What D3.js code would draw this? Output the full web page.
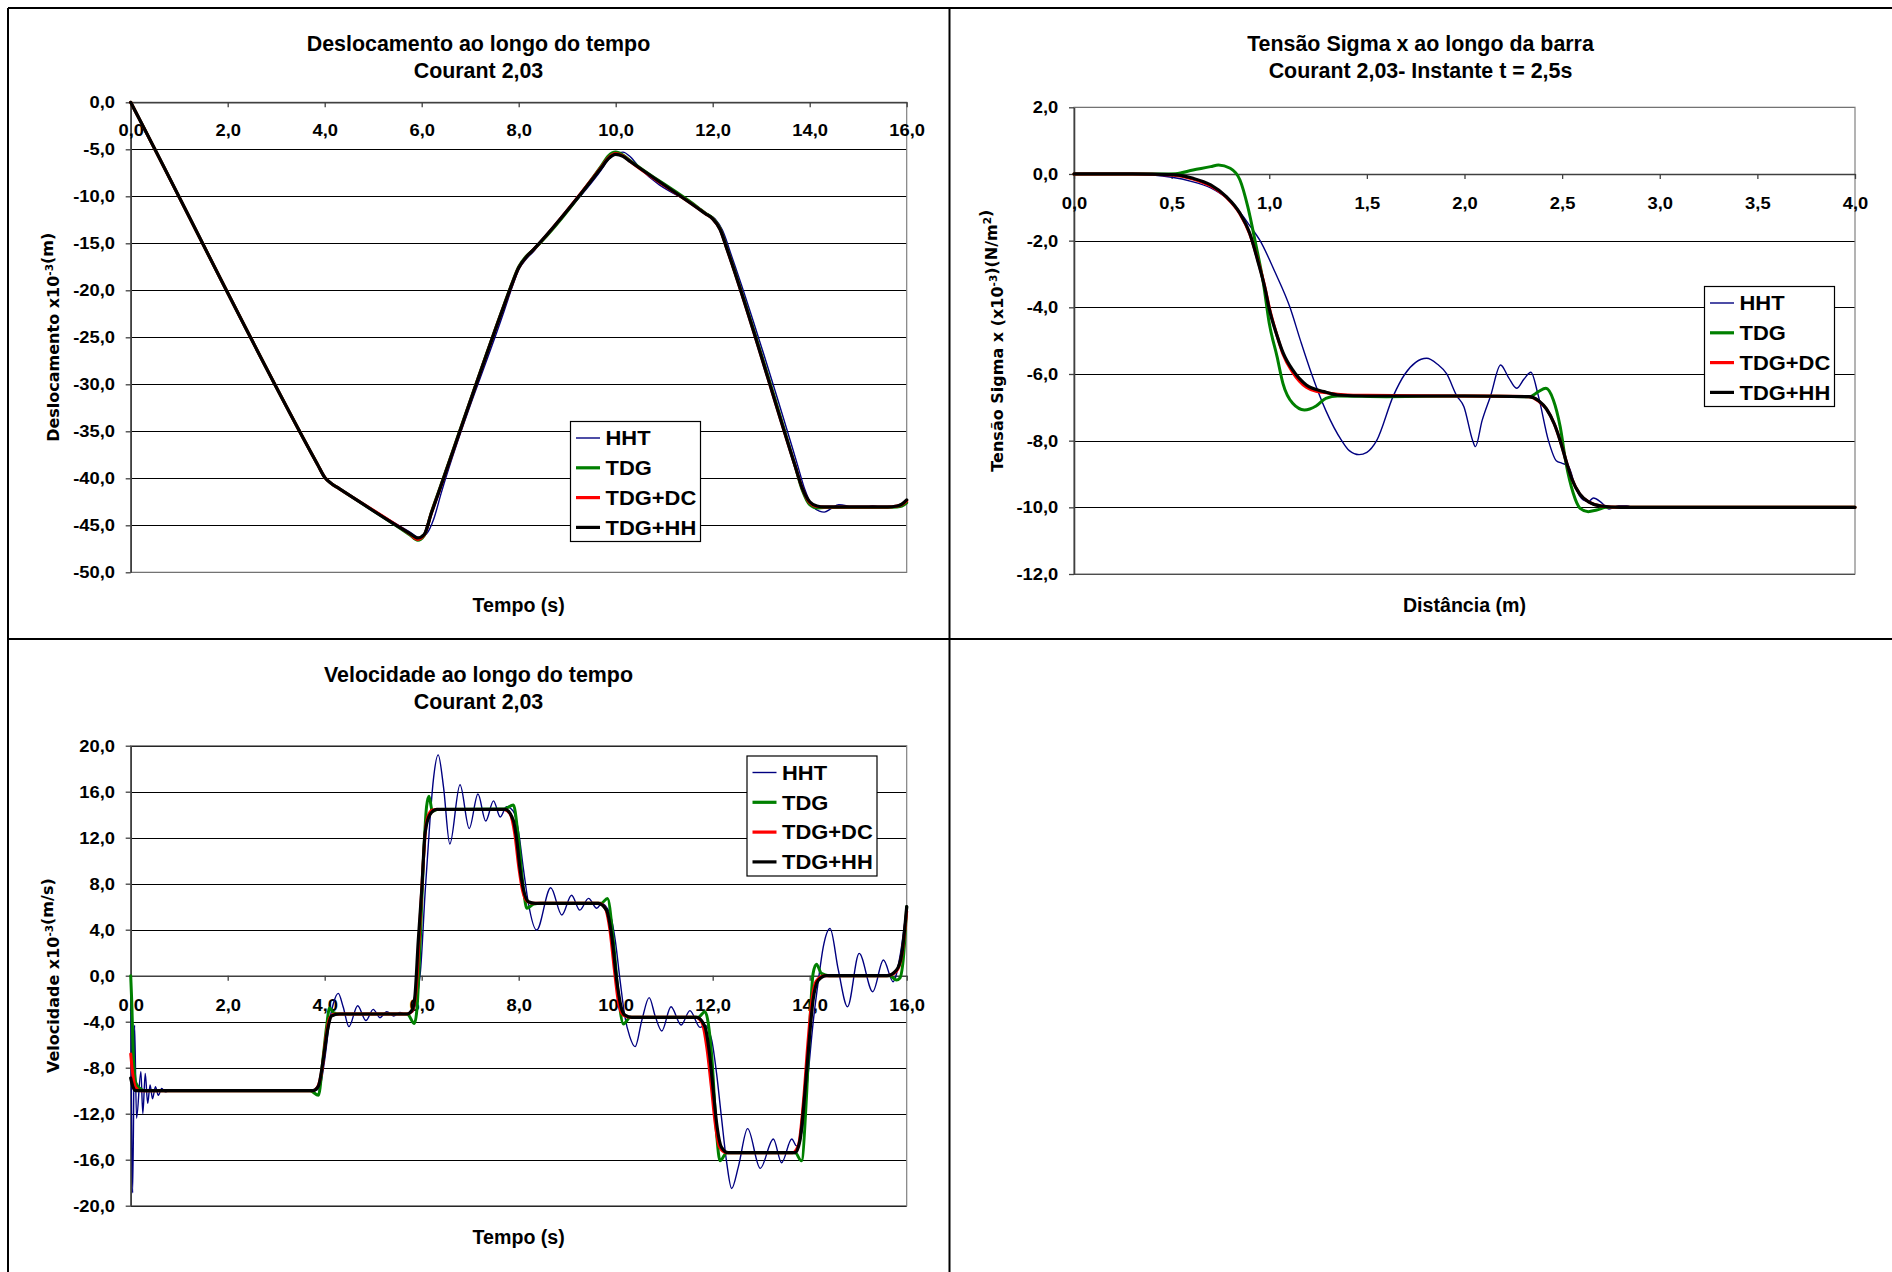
<!DOCTYPE html>
<html>
<head>
<meta charset="utf-8">
<script src="https://cdn.jsdelivr.net/npm/d3@7"></script>
<style>
  html, body { margin: 0; padding: 0; background: #fff; }
</style>
</head>
<body>
<script>
// ---------- shared series styling ----------
const seriesNames  = ["HHT", "TDG", "TDG+DC", "TDG+HH"];
const seriesColors = ["#000080", "#008000", "#ff0000", "#000000"];
const seriesWidths = [1.4, 3, 3, 3.2];

// ---------- Deslocamento ao longo do tempo (t [s], u [x10^-3 m]) ----------
const dispXTicks = [0, 2, 4, 6, 8, 10, 12, 14, 16];
const dispYTicks = [0, -5, -10, -15, -20, -25, -30, -35, -40, -45, -50];
const dispHHT = [[0,0],[0.2,-2],[3.85,-38.5],[4.0,-39.9],[4.15,-40.6],[4.3,-41.1],[5.75,-45.7],[5.95,-46.3],[6.1,-45.9],[6.25,-44.3],[6.4,-41.6],[7.7,-22.2],[7.85,-19.9],[8.0,-17.8],[8.15,-16.7],[8.3,-15.9],[8.5,-14.6],[9.7,-7.2],[9.85,-6.1],[10.0,-5.5],[10.15,-5.3],[10.3,-5.8],[10.5,-7.0],[11.7,-11.2],[11.9,-11.9],[12.05,-12.4],[12.2,-13.6],[12.4,-16.5],[13.75,-38.6],[13.9,-41.2],[14.05,-42.9],[14.2,-43.5],[14.3,-43.6],[14.45,-43.2],[14.6,-42.8],[14.75,-42.9],[14.9,-43.15],[15.1,-43.2],[15.3,-42.95],[15.5,-43.1],[15.7,-43.0],[15.85,-42.85],[16,-42.3]];
const dispTDG = [[0,0],[0.2,-2],[3.85,-38.5],[4.0,-39.9],[4.15,-40.6],[4.3,-41.1],[5.75,-46.0],[5.92,-46.6],[6.05,-46.1],[6.2,-43.6],[6.35,-41.4],[7.7,-21.5],[7.85,-19.4],[8.0,-17.5],[8.15,-16.4],[8.3,-15.7],[9.7,-6.8],[9.85,-5.7],[10.0,-5.3],[10.15,-5.6],[10.3,-6.2],[11.7,-11.2],[11.85,-11.8],[12.0,-12.3],[12.15,-13.4],[12.3,-15.6],[13.7,-38.7],[13.85,-41.3],[14.0,-42.8],[14.15,-43.15],[14.3,-43.1],[15.6,-43.1],[15.8,-43.05],[15.9,-42.95],[16,-42.6]];
const dispTDGDC = [[0,0],[0.2,-2],[3.85,-38.5],[4.0,-39.9],[4.15,-40.6],[4.3,-41.1],[5.75,-45.9],[5.92,-46.5],[6.05,-46.05],[6.2,-43.7],[6.35,-41.5],[7.7,-21.6],[7.85,-19.5],[8.0,-17.6],[8.15,-16.5],[8.3,-15.7],[9.7,-6.9],[9.85,-5.9],[10.0,-5.45],[10.15,-5.7],[10.3,-6.3],[11.7,-11.3],[11.85,-11.85],[12.0,-12.4],[12.15,-13.5],[12.3,-15.7],[13.7,-38.7],[13.85,-41.1],[14.0,-42.6],[14.15,-43.0],[14.3,-43.05],[15.6,-43.05],[15.8,-42.95],[15.9,-42.8],[16,-42.4]];
const dispTDGHH = [[0,0],[0.2,-2],[3.85,-38.5],[4.0,-39.9],[4.15,-40.6],[4.3,-41.1],[5.75,-45.85],[5.92,-46.35],[6.05,-46.0],[6.2,-43.7],[6.35,-41.5],[7.7,-21.6],[7.85,-19.5],[8.0,-17.6],[8.15,-16.5],[8.3,-15.7],[9.7,-7.0],[9.85,-6.0],[10.0,-5.55],[10.15,-5.75],[10.3,-6.3],[11.7,-11.3],[11.85,-11.85],[12.0,-12.4],[12.15,-13.5],[12.3,-15.7],[13.7,-38.7],[13.85,-41.1],[14.0,-42.5],[14.15,-42.95],[14.3,-43.05],[15.6,-43.05],[15.8,-42.95],[15.9,-42.75],[16,-42.3]];

// ---------- Tensão Sigma x ao longo da barra (d [m], sigma [x10^-3 N/m2]) ----------
const stressXTicks = [0, 0.5, 1, 1.5, 2, 2.5, 3, 3.5, 4];
const stressYTicks = [2, 0, -2, -4, -6, -8, -10, -12];
const stressHHT = [[0,0],[0.3,-0.01],[0.5,-0.1],[0.6,-0.22],[0.7,-0.42],[0.78,-0.72],[0.85,-1.15],[0.9,-1.55],[0.953,-2.0],[1.03,-2.95],[1.106,-4.0],[1.16,-5.0],[1.217,-6.0],[1.29,-7.1],[1.371,-8.0],[1.41,-8.3],[1.46,-8.42],[1.5,-8.35],[1.55,-8.0],[1.636,-6.65],[1.695,-6.0],[1.75,-5.65],[1.806,-5.53],[1.86,-5.7],[1.909,-6.0],[1.96,-6.65],[1.997,-6.98],[2.042,-8.0],[2.056,-8.18],[2.09,-7.4],[2.134,-6.65],[2.185,-5.73],[2.225,-6.1],[2.267,-6.43],[2.305,-6.15],[2.34,-5.95],[2.378,-6.65],[2.43,-8.0],[2.47,-8.6],[2.5,-8.68],[2.53,-8.75],[2.575,-9.5],[2.608,-9.78],[2.635,-9.83],[2.66,-9.72],[2.70,-9.85],[2.74,-10.05],[2.79,-9.95],[2.83,-9.95],[2.87,-10.03],[2.92,-10.0],[4,-10.0]];
const stressTDG = [[0,0],[0.45,0],[0.52,0.01],[0.61,0.12],[0.7,0.22],[0.74,0.27],[0.8,0.17],[0.85,-0.18],[0.89,-0.98],[0.93,-2.08],[0.97,-3.28],[1.0,-4.48],[1.04,-5.48],[1.07,-6.28],[1.12,-6.88],[1.18,-7.08],[1.24,-6.96],[1.29,-6.73],[1.35,-6.66],[1.6,-6.68],[2.0,-6.66],[2.335,-6.68],[2.378,-6.53],[2.417,-6.43],[2.455,-6.78],[2.49,-7.58],[2.52,-8.68],[2.557,-9.58],[2.592,-10.03],[2.634,-10.13],[2.677,-10.08],[2.728,-10.0],[4,-10.0]];
const stressTDGDC = [[0,0],[0.3,0],[0.5,-0.03],[0.61,-0.15],[0.7,-0.36],[0.78,-0.7],[0.85,-1.2],[0.9,-1.8],[0.94,-2.55],[0.98,-3.45],[1.0,-4.0],[1.04,-4.85],[1.07,-5.4],[1.12,-5.95],[1.19,-6.4],[1.24,-6.52],[1.3,-6.57],[1.38,-6.62],[1.5,-6.64],[2.0,-6.66],[2.33,-6.68],[2.38,-6.82],[2.42,-7.05],[2.46,-7.5],[2.49,-8.0],[2.52,-8.6],[2.55,-9.15],[2.59,-9.6],[2.64,-9.85],[2.7,-9.96],[2.8,-10.0],[4,-10.0]];
const stressTDGHH = [[0,0],[0.3,0],[0.5,-0.02],[0.61,-0.13],[0.7,-0.33],[0.78,-0.68],[0.85,-1.18],[0.9,-1.78],[0.94,-2.58],[0.98,-3.48],[1.0,-4.05],[1.04,-4.85],[1.07,-5.35],[1.12,-5.88],[1.19,-6.33],[1.28,-6.53],[1.35,-6.63],[1.5,-6.66],[2.0,-6.66],[2.33,-6.68],[2.38,-6.8],[2.42,-7.05],[2.46,-7.5],[2.49,-8.0],[2.52,-8.6],[2.55,-9.15],[2.59,-9.6],[2.64,-9.85],[2.7,-9.96],[2.8,-10.0],[4,-10.0]];

// ---------- Velocidade ao longo do tempo (t [s], v [x10^-3 m/s]) ----------
const velXTicks = [0, 2, 4, 6, 8, 10, 12, 14, 16];
const velYTicks = [20, 16, 12, 8, 4, 0, -4, -8, -12, -16, -20];
const velHHT = [[0,0],[0.04,-18.9],[0.08,-4.3],[0.12,-12.4],[0.21,-8.35],[0.25,-12.0],[0.3,-8.5],[0.35,-11.1],[0.4,-9.5],[0.45,-10.7],[0.51,-9.65],[0.57,-10.4],[0.64,-9.8],[0.71,-10.1],[0.8,-10.0],[3.8,-10.0],[3.9,-9.65],[4.0,-7.3],[4.11,-3.7],[4.18,-2.4],[4.28,-1.54],[4.38,-2.7],[4.5,-4.43],[4.68,-2.61],[4.85,-3.9],[5.0,-2.93],[5.14,-3.65],[5.28,-3.13],[5.42,-3.5],[5.55,-3.2],[5.66,-3.36],[5.8,-3.2],[5.97,0.2],[6.07,7.2],[6.17,13.5],[6.24,17.0],[6.34,19.2],[6.45,16.4],[6.58,11.45],[6.79,16.6],[6.98,12.8],[7.16,15.8],[7.32,13.45],[7.48,15.2],[7.62,13.8],[7.75,14.7],[7.89,14.3],[7.99,12.7],[8.1,9.2],[8.2,6.3],[8.37,3.97],[8.66,7.65],[8.89,5.28],[9.09,7.0],[9.26,5.7],[9.44,6.72],[9.61,5.86],[9.71,6.29],[9.88,5.4],[9.99,3.1],[10.09,-0.4],[10.19,-3.57],[10.29,-5.3],[10.4,-6.17],[10.54,-3.86],[10.69,-1.91],[10.82,-3.6],[10.95,-4.81],[11.14,-2.7],[11.35,-4.29],[11.53,-3.04],[11.74,-4.49],[11.84,-4.3],[11.98,-5.6],[12.08,-8.5],[12.18,-12.3],[12.29,-16.3],[12.39,-18.5],[12.53,-16.6],[12.72,-13.3],[12.98,-16.75],[13.25,-14.2],[13.42,-16.26],[13.63,-14.2],[13.73,-14.8],[13.87,-12.8],[13.97,-8.5],[14.07,-4.1],[14.18,-0.38],[14.28,2.5],[14.42,4.1],[14.59,0.5],[14.78,-2.7],[15.02,1.94],[15.3,-1.39],[15.52,1.36],[15.72,-0.52],[15.86,1.65],[16,6.0]];
const velTDG = [[0,0],[0.02,-2.1],[0.055,-7.0],[0.11,-9.36],[0.19,-9.8],[0.3,-10.0],[3.7,-10.0],[3.87,-10.4],[3.97,-7.0],[4.04,-4.4],[4.1,-2.8],[4.18,-3.2],[4.3,-3.33],[5.7,-3.33],[5.85,-4.15],[5.9,-3.0],[5.97,3.0],[6.03,9.5],[6.1,14.7],[6.15,15.6],[6.22,14.3],[6.32,14.46],[7.7,14.5],[7.89,14.84],[7.99,12.1],[8.1,7.45],[8.17,5.86],[8.31,6.23],[8.45,6.29],[9.7,6.29],[9.83,6.72],[9.95,3.1],[10.05,-1.5],[10.16,-4.2],[10.3,-3.62],[11.7,-3.62],[11.84,-3.13],[11.98,-7.0],[12.08,-13.7],[12.15,-16.1],[12.29,-15.4],[13.7,-15.4],[13.83,-16.1],[13.94,-10.0],[14.01,-3.6],[14.07,0.2],[14.14,1.0],[14.24,0.2],[14.4,0],[15.65,0],[15.79,-0.38],[15.86,-0.2],[15.94,1.94],[16,6.0]];
const velTDGDC = [[0,-6.8],[0.05,-8.8],[0.1,-9.7],[0.2,-10.0],[3.75,-10.0],[3.85,-9.7],[3.95,-8.0],[4.03,-5.2],[4.1,-3.7],[4.2,-3.35],[4.35,-3.33],[5.7,-3.33],[5.8,-3.1],[5.88,-1.5],[5.95,3.5],[6.02,9.0],[6.1,13.4],[6.2,14.35],[6.3,14.46],[7.7,14.46],[7.82,14.1],[7.92,12.3],[8.0,9.5],[8.08,7.4],[8.18,6.45],[8.3,6.29],[9.65,6.29],[9.78,5.9],[9.88,4.0],[9.97,0.6],[10.06,-2.4],[10.15,-3.4],[10.3,-3.62],[11.65,-3.62],[11.78,-4.1],[11.88,-6.3],[11.97,-9.6],[12.05,-12.8],[12.14,-14.9],[12.28,-15.39],[13.65,-15.39],[13.77,-14.7],[13.87,-11.0],[13.96,-6.0],[14.04,-2.3],[14.13,-0.5],[14.3,0],[15.6,0],[15.78,0.35],[15.9,1.8],[16,5.6]];
const velTDGHH = [[0,-8.9],[0.05,-9.7],[0.1,-10.0],[3.75,-10.0],[3.87,-9.6],[3.97,-7.3],[4.06,-4.7],[4.14,-3.5],[4.3,-3.33],[5.7,-3.33],[5.8,-3.0],[5.86,-1.8],[5.93,3.1],[6.0,7.4],[6.07,12.4],[6.17,14.0],[6.31,14.46],[7.72,14.46],[7.89,13.5],[7.96,11.8],[8.03,9.2],[8.1,7.45],[8.2,6.43],[8.34,6.29],[9.64,6.29],[9.81,5.7],[9.92,3.4],[10.02,-0.38],[10.11,-2.7],[10.19,-3.42],[10.33,-3.62],[11.67,-3.62],[11.84,-4.43],[11.94,-7.0],[12.01,-9.9],[12.08,-12.8],[12.18,-14.9],[12.32,-15.39],[13.7,-15.39],[13.8,-14.3],[13.9,-10.2],[13.99,-5.6],[14.07,-2.1],[14.18,-0.38],[14.35,0],[15.59,0],[15.79,0.5],[15.9,1.94],[16,6.0]];

// ---------- drawing ----------
const W = 1892, H = 1272;
const ARIAL = "'Liberation Sans', Arial, Helvetica, sans-serif";
const WIDE  = "'DejaVu Sans', Verdana, sans-serif";
const TICK_SX = 1.08;    // tick labels are set slightly wide
const LEGEND_SX = 1.07;

const svg = d3.select("body").append("svg")
  .attr("width", W).attr("height", H)
  .style("display", "block").style("background", "#fff");

const numLocale = d3.formatLocale({ decimal: ",", thousands: ".", grouping: [3], currency: ["", ""], minus: "-" });
const fmt1 = numLocale.format(".1f");

function drawChart(cfg) {
  const g = svg.append("g");
  const x = d3.scaleLinear().domain(cfg.xDomain).range([cfg.left, cfg.right]);
  const y = d3.scaleLinear().domain(cfg.yDomain).range([cfg.bottom, cfg.top]);

  // horizontal gridlines
  g.append("g").selectAll("line").data(cfg.yTicks).join("line")
    .attr("x1", cfg.left).attr("x2", cfg.right)
    .attr("y1", d => Math.round(y(d)) + 0.5).attr("y2", d => Math.round(y(d)) + 0.5)
    .attr("stroke", "#000").attr("stroke-width", 1);

  // plot area frame
  g.append("rect")
    .attr("x", cfg.left).attr("y", cfg.top)
    .attr("width", cfg.right - cfg.left).attr("height", cfg.bottom - cfg.top)
    .attr("fill", "none").attr("stroke", "#808080").attr("stroke-width", 1.2);

  // y axis
  const yAxis = d3.axisLeft(y).tickValues(cfg.yTicks).tickFormat(fmt1)
    .tickSize(5).tickSizeOuter(0).tickPadding(10.5);
  const ya = g.append("g").attr("transform", `translate(${cfg.left},0)`).call(yAxis);
  ya.select(".domain").attr("stroke", "#404040").attr("stroke-width", 1.6);
  ya.selectAll(".tick line").attr("stroke", "#404040").attr("stroke-width", 1.3);
  ya.selectAll(".tick text")
    .attr("x", 0).attr("transform", `translate(-15.7,0) scale(${TICK_SX},1)`)
    .style("font-family", ARIAL).style("font-weight", "bold").style("font-size", "17px").attr("fill", "#000");

  // x axis crossing at zero
  const xAxis = d3.axisBottom(x).tickValues(cfg.xTicks).tickFormat(fmt1)
    .tickSize(5).tickSizeOuter(0).tickPadding(cfg.xPad);
  const xa = g.append("g").attr("transform", `translate(0,${y(0)})`).call(xAxis);
  xa.select(".domain").attr("stroke", "#404040").attr("stroke-width", 1.6);
  xa.selectAll(".tick line").attr("stroke", "#404040").attr("stroke-width", 1.3);
  xa.selectAll(".tick text")
    .attr("transform", `scale(${TICK_SX},1)`)
    .style("font-family", ARIAL).style("font-weight", "bold").style("font-size", "17px").attr("fill", "#000");

  // series
  const line = d3.line().x(d => x(d[0])).y(d => y(d[1])).curve(d3.curveMonotoneX);
  g.append("g").selectAll("path").data(cfg.series).join("path")
    .attr("d", d => line(d))
    .attr("fill", "none")
    .attr("stroke", (d, i) => seriesColors[i])
    .attr("stroke-width", (d, i) => seriesWidths[i])
    .attr("stroke-linejoin", "round").attr("stroke-linecap", "round");

  // chart title (two lines)
  const tt = g.append("text")
    .attr("text-anchor", "middle")
    .style("font-family", ARIAL).style("font-weight", "bold").style("font-size", cfg.titleSize + "px");
  cfg.title.forEach((t, i) => {
    tt.append("tspan").attr("x", cfg.panelCx).attr("y", cfg.panelTop + 43 + i * 26.6).text(t);
  });

  // x axis title
  g.append("text")
    .attr("x", (cfg.left + cfg.right) / 2).attr("y", cfg.xTitleY)
    .attr("text-anchor", "middle")
    .style("font-family", ARIAL).style("font-weight", "bold").style("font-size", "19.6px")
    .text(cfg.xTitle);

  // y axis title, rotated, with superscripts
  const yt = g.append("text")
    .attr("transform", `translate(${cfg.yTitleX},${(cfg.top + cfg.bottom) / 2}) rotate(-90)`)
    .attr("text-anchor", "middle")
    .style("font-family", WIDE).style("font-weight", "bold").style("font-size", "16px");
  cfg.yTitle.forEach(part => {
    if (part.sup) {
      yt.append("tspan").attr("dy", -6).style("font-size", "10.5px").text(part.t);
      yt.append("tspan").attr("dy", 6).text("");
    } else {
      yt.append("tspan").text(part.t);
    }
  });

  // legend
  const lg = g.append("g").attr("transform", `translate(${cfg.legend[0]},${cfg.legend[1]})`);
  lg.append("rect").attr("x", 0.5).attr("y", 0.5).attr("width", 130).attr("height", 120)
    .attr("fill", "#fff").attr("stroke", "#000").attr("stroke-width", 1.2);
  const rows = lg.selectAll("g.row").data(seriesNames).join("g").attr("class", "row")
    .attr("transform", (d, i) => `translate(0,${17 + i * 29.8})`);
  rows.append("line").attr("x1", 6).attr("x2", 30).attr("y1", 0).attr("y2", 0)
    .attr("stroke", (d, i) => seriesColors[i])
    .attr("stroke-width", (d, i) => i === 0 ? 1.4 : 3.2);
  rows.append("text").attr("transform", `translate(35.5,7.3) scale(${LEGEND_SX},1)`)
    .style("font-family", ARIAL).style("font-weight", "bold").style("font-size", "20.5px")
    .text(d => d);
}

// panel frame lines
const frame = svg.append("g").attr("stroke", "#000").attr("stroke-width", 2);
frame.append("line").attr("x1", 8).attr("x2", W).attr("y1", 8).attr("y2", 8);
frame.append("line").attr("x1", 8).attr("x2", 8).attr("y1", 8).attr("y2", H);
frame.append("line").attr("x1", 949.5).attr("x2", 949.5).attr("y1", 8).attr("y2", H);
frame.append("line").attr("x1", 8).attr("x2", W).attr("y1", 639).attr("y2", 639);

drawChart({
  left: 130.7, right: 906.7, top: 102.3, bottom: 572.3,
  xDomain: [0, 16], yDomain: [-50, 0],
  xTicks: dispXTicks, yTicks: dispYTicks, xPad: 16.5,
  series: [dispHHT, dispTDG, dispTDGDC, dispTDGHH],
  title: ["Deslocamento ao longo do tempo", "Courant 2,03"], titleSize: 21.4,
  panelCx: 478.5, panelTop: 8,
  xTitle: "Tempo (s)", xTitleY: 611.5,
  yTitle: [{ t: "Deslocamento x10" }, { t: "-3", sup: true }, { t: "(m)" }], yTitleX: 59,
  legend: [570, 421]
});

drawChart({
  left: 1074, right: 1855, top: 107.3, bottom: 574,
  xDomain: [0, 4], yDomain: [-12, 2],
  xTicks: stressXTicks, yTicks: stressYTicks, xPad: 17.5,
  series: [stressHHT, stressTDG, stressTDGDC, stressTDGHH],
  title: ["Tensão Sigma x ao longo da barra", "Courant 2,03- Instante t = 2,5s"], titleSize: 21.4,
  panelCx: 1420.5, panelTop: 8,
  xTitle: "Distância (m)", xTitleY: 611.5,
  yTitle: [{ t: "Tensão Sigma x (x10" }, { t: "-3", sup: true }, { t: ")(N/m" }, { t: "2", sup: true }, { t: ")" }], yTitleX: 1002.5,
  legend: [1704, 286]
});

drawChart({
  left: 130.7, right: 906.7, top: 745.7, bottom: 1205.7,
  xDomain: [0, 16], yDomain: [-20, 20],
  xTicks: velXTicks, yTicks: velYTicks, xPad: 18.5,
  series: [velHHT, velTDG, velTDGDC, velTDGHH],
  title: ["Velocidade ao longo do tempo", "Courant 2,03"], titleSize: 21.4,
  panelCx: 478.5, panelTop: 639,
  xTitle: "Tempo (s)", xTitleY: 1243.5,
  yTitle: [{ t: "Velocidade x10" }, { t: "-3", sup: true }, { t: "(m/s)" }], yTitleX: 59,
  legend: [746.5, 755.5]
});
</script>
</body>
</html>
